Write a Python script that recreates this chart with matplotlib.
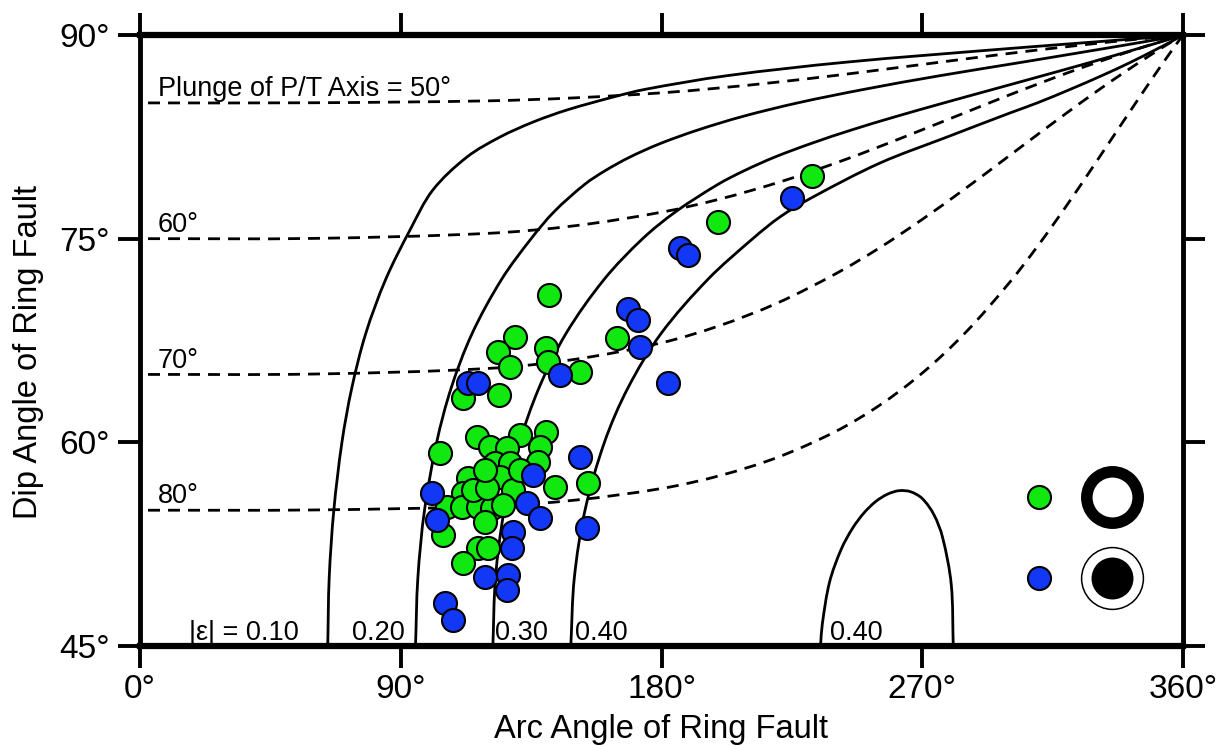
import matplotlib
matplotlib.use("Agg")
import numpy as np
import matplotlib.pyplot as plt
from matplotlib.path import Path
from matplotlib.patches import PathPatch

plt.rcParams['font.family'] = ['Liberation Sans', 'DejaVu Sans']

# ---- |epsilon| contours (arc angle deg, dip deg) ----
eps_dip = [45, 50, 55, 60, 64, 68, 72, 75, 77, 79, 80, 81, 82, 83, 84, 85, 86, 87, 88, 89, 89.5, 90]

eps10_arc = [64.8, 65.3, 66.9, 69.7, 73.1, 77.9, 84.8, 93.2, 101.1, 112.9, 124.3, 135.7, 147.4, 163.3, 174.4, 202.5, 243.8, 299.8, 330.2, 360.0]
eps10_dip = [45, 50, 55, 60, 64, 68, 72, 75.64, 78.59, 81.02, 82.49, 83.59, 84.48, 85.43, 86, 87, 88, 89, 89.5, 90]

eps20_arc = [95.1, 95.9, 98.2, 102.4, 107.4, 114.6, 124.8, 135.0, 143.0, 153.5, 160.5, 169.0, 179.5, 192.5, 208.0, 227.0, 250.0, 276.0, 304.6, 332.8, 346.6, 360.0]
eps30_arc = [121.8, 122.7, 125.7, 131.1, 137.7, 147.0, 160.2, 173.5, 185.0, 199.5, 208.5, 219.0, 231.5, 245.5, 261.0, 277.5, 294.5, 311.5, 328.3, 344.5, 352.4, 360.0]

eps40_arc = [148.7, 149.9, 153.6, 160.3, 168.4, 179.8, 196.0, 211.5, 220.9, 232.3, 255.4, 278.6, 300.3, 309.7, 321.1, 331.9, 342.0, 351.3, 355.8, 360.0]
eps40_dip = [45, 50, 55, 60, 64, 68, 72, 75, 76.6, 78.07, 80.57, 82.49, 84.26, 85, 86, 87, 88, 89, 89.5, 90]

eps40b_arc = [234.9, 235.5, 238, 242, 246, 250, 254, 258, 262, 266, 270, 274, 277, 280, 280.7]
eps40b_dip = [45.0, 46.61, 49.70, 52.11, 53.69, 54.83, 55.65, 56.18, 56.44, 56.36, 55.86, 54.68, 53.01, 49.55, 45.0]

# ---- plunge of P/T axis contours ----
plunge_arc = [0, 60, 120, 150, 180, 200, 220, 240, 255, 270, 285, 300, 310, 320, 330, 340, 350, 355, 360]
p50_dip = [85.00, 85.01, 85.15, 85.37, 85.74, 86.10, 86.53, 87.02, 87.42, 87.83, 88.24, 88.64, 88.90, 89.14, 89.38, 89.60, 89.81, 89.90, 90.0]
p60_dip = [75.00, 75.02, 75.39, 75.95, 76.95, 77.91, 79.12, 80.56, 81.76, 83.02, 84.30, 85.58, 86.40, 87.20, 87.96, 88.68, 89.36, 89.69, 90.0]
p70_dip = [65.00, 65.03, 65.44, 66.11, 67.33, 68.59, 70.26, 72.40, 74.29, 76.42, 78.71, 81.10, 82.70, 84.28, 85.82, 87.29, 88.69, 89.36, 90.0]
p80_dip = [55.00, 55.02, 55.29, 55.74, 56.60, 57.54, 58.89, 60.79, 62.69, 65.10, 68.10, 71.74, 74.50, 77.49, 80.64, 83.83, 86.99, 88.52, 90.0]

# ---- events ----
green_arc = [232.0, 199.5, 141.2, 164.6, 151.9, 129.4, 123.6, 127.7, 140.1, 140.8, 111.5, 123.9,
             116.3, 103.6, 131.2, 140.1, 138.1, 137.4, 143.3, 154.6, 120.8, 126.7, 122.5, 127.7,
             113.2, 124.3, 128.8, 118.4, 111.5, 106.0, 111.1, 116.7, 121.5, 125.3, 119.1, 104.6,
             116.7, 120.1, 111.5, 114.9, 119.8, 119.1, 131.2]
green_dip = [79.62, 76.23, 70.85, 67.69, 65.18, 67.76, 66.66, 65.55, 66.95, 65.92, 63.27, 63.49,
             60.40, 59.22, 60.54, 60.77, 59.66, 58.56, 56.72, 57.01, 59.66, 59.59, 58.48, 58.48,
             57.38, 57.45, 56.49, 56.72, 56.27, 55.24, 55.24, 55.24, 55.17, 55.39, 54.14, 53.18,
             52.22, 52.22, 51.12, 56.49, 56.64, 57.97, 57.97]

blue_arc = [225.1, 186.4, 189.2, 168.4, 171.9, 172.6, 182.3, 145.0, 113.2, 116.7, 151.9, 135.7,
            100.8, 133.6, 138.1, 102.5, 128.8, 128.4, 154.3, 119.1, 127.0, 126.7, 105.3, 108.0]
blue_dip = [78.00, 74.32, 73.80, 69.82, 69.01, 67.03, 64.37, 64.96, 64.37, 64.37, 58.92, 57.60,
            56.27, 55.54, 54.43, 54.29, 53.40, 52.22, 53.70, 50.09, 50.24, 49.13, 48.17, 46.92]

x_ticks = [0, 90, 180, 270, 360]
x_ticklabels = ['0°', '90°', '180°', '270°', '360°']
y_ticks = [45, 60, 75, 90]
y_ticklabels = ['45°', '60°', '75°', '90°']

GREEN = '#10E810'
BLUE = '#1238F6'


def smooth_path(xs, ys, yscale=4.68):
    P = np.column_stack([np.asarray(xs, float), np.asarray(ys, float) * yscale])
    n = len(P)
    d = np.linalg.norm(np.diff(P, axis=0), axis=1)
    T = np.zeros_like(P)
    T[0] = (P[1] - P[0]) / d[0]
    T[-1] = (P[-1] - P[-2]) / d[-1]
    for i in range(1, n - 1):
        T[i] = (P[i + 1] - P[i - 1]) / (d[i - 1] + d[i])
    verts = [P[0]]
    codes = [Path.MOVETO]
    for i in range(n - 1):
        verts += [P[i] + T[i] * d[i] / 3, P[i + 1] - T[i + 1] * d[i] / 3, P[i + 1]]
        codes += [Path.CURVE4] * 3
    V = np.array(verts)
    V[:, 1] /= yscale
    return Path(V, codes)


fig = plt.figure(figsize=(12.24, 7.46), dpi=100)
ax = fig.add_axes([140 / 1224, 1 - 646 / 746, 1043 / 1224, 611 / 746])
ax.set_xlim(0, 360)
ax.set_ylim(45, 90)

lw = 2.0
for xs, ys in [(eps10_arc, eps10_dip), (eps20_arc, eps_dip), (eps30_arc, eps_dip),
               (eps40_arc, eps40_dip), (eps40b_arc, eps40b_dip)]:
    ax.add_patch(PathPatch(smooth_path(xs, ys), fill=False, edgecolor='black', lw=lw,
                           capstyle='butt', zorder=2))

dash = (4.3, (4.3, 2.9))
for ys in [p50_dip, p60_dip, p70_dip, p80_dip]:
    ax.add_patch(PathPatch(smooth_path(plunge_arc, ys), fill=False, edgecolor='black', lw=lw,
                           linestyle=dash, capstyle='butt', zorder=2))

ax.scatter(green_arc, green_dip, s=275, c=GREEN, edgecolors='black', linewidths=1.5, zorder=3)
ax.scatter(blue_arc, blue_dip, s=275, c=BLUE, edgecolors='black', linewidths=1.5, zorder=4)

# annotations
afs = 19.5
ax.text(6.2, 85.5, 'Plunge of P/T Axis = 50°', fontsize=afs, ha='left', va='baseline')
ax.text(6.2, 75.5, '60°', fontsize=afs, ha='left', va='baseline')
ax.text(6.2, 65.5, '70°', fontsize=afs, ha='left', va='baseline')
ax.text(6.2, 55.5, '80°', fontsize=afs, ha='left', va='baseline')
ax.text(35.9, 45.45, '|ε| = 0.10', fontsize=afs, ha='center', va='baseline')
ax.text(82.2, 45.45, '0.20', fontsize=afs, ha='center', va='baseline')
ax.text(131.5, 45.45, '0.30', fontsize=afs, ha='center', va='baseline')
ax.text(159.3, 45.45, '0.40', fontsize=afs, ha='center', va='baseline')
ax.text(247.2, 45.45, '0.40', fontsize=afs, ha='center', va='baseline')

# key symbols
kx1, kx2 = 0.862, 0.9316
ky1, ky2 = 0.2444, 0.1108
ax.plot([kx1], [ky1], 'o', transform=ax.transAxes, ms=16.6, mfc=GREEN, mec='black', mew=1.5, zorder=5)
ax.plot([kx1], [ky2], 'o', transform=ax.transAxes, ms=16.6, mfc=BLUE, mec='black', mew=1.5, zorder=5)
ax.plot([kx2], [ky1], 'o', transform=ax.transAxes, ms=37, mfc='white', mec='black', mew=8.3, zorder=5)
ax.plot([kx2], [ky2], 'o', transform=ax.transAxes, ms=30.2, mfc='black', mec='black', mew=0, zorder=5)
ax.plot([kx2], [ky2], 'o', transform=ax.transAxes, ms=44.5, mfc='none', mec='black', mew=1.1, zorder=5)

ax.set_xticks(x_ticks)
ax.set_xticklabels(x_ticklabels)
ax.set_yticks(y_ticks)
ax.set_yticklabels(y_ticklabels)
ax.tick_params(axis='both', direction='out', length=16, width=2.8, labelsize=24,
               top=True, right=True, labeltop=False, labelright=False)
ax.tick_params(axis='x', pad=4)
ax.tick_params(axis='y', pad=6)

for side in ['top', 'bottom']:
    ax.spines[side].set_linewidth(4.5)
for side in ['left', 'right']:
    ax.spines[side].set_linewidth(3.5)

ax.set_xlabel('Arc Angle of Ring Fault', fontsize=23.5)
ax.set_ylabel('Dip Angle of Ring Fault', fontsize=23.5)
ax.xaxis.set_label_coords(0.5, -0.1115)
ax.yaxis.set_label_coords(-0.092, 0.481)

fig.savefig('out.png', dpi=100)
